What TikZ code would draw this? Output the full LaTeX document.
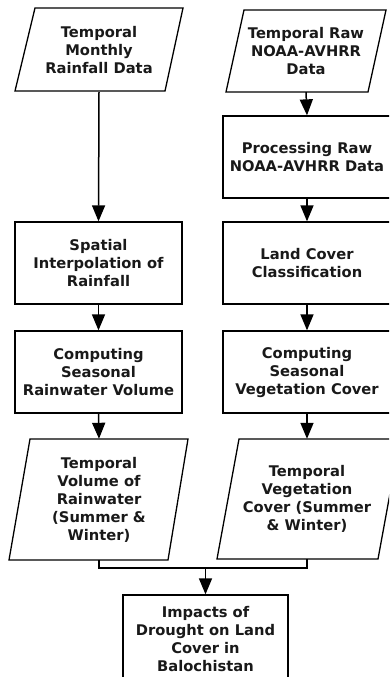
\documentclass[tikz,border=0pt]{standalone}
\usepackage{fontspec}
\setmainfont{DejaVu Sans}
\usetikzlibrary{arrows.meta}
\tikzset{
  txt/.style={font=\bfseries\fontsize{14.7}{18}\selectfont, align=center, inner sep=0pt, text=black!90},
  boxnode/.style={txt, draw=black, line width=1.3pt, minimum width=167pt},
  paranode/.style={txt, minimum width=150pt},
  outline/.style={draw=black, line width=1.3pt},
  arr/.style={draw=black, line width=1.5pt, -{Triangle[length=16pt,width=13pt]}},
  ln/.style={draw=black, line width=1.5pt}
}
\begin{document}
\begin{tikzpicture}[x=1pt,y=-1pt]
\useasboundingbox (0,0) rectangle (389,677);
\clip (0,0) rectangle (389,677);
% top parallelograms
\draw[outline] (35,8) -- (183,8) -- (165,91) -- (15,91) -- cycle;
\node[paranode, minimum height=83pt] (rain) at (99,50.5) {Temporal\\Monthly\\Rainfall Data};
\draw[outline] (244,10) -- (386,10) -- (368,92) -- (226,92) -- cycle;
\node[paranode, minimum height=82pt] (noaa) at (306,51) {Temporal Raw\\NOAA-AVHRR\\Data};
% right column boxes
\node[boxnode, minimum width=168pt, minimum height=82pt] (proc) at (307,157) {Processing Raw\\NOAA-AVHRR Data};
\node[boxnode, minimum width=168pt, minimum height=82pt] (land) at (307,263) {Land Cover\\Classification};
\node[boxnode, minimum width=168pt, minimum height=82pt] (cveg) at (307,372) {Computing\\Seasonal\\Vegetation Cover};
% left column boxes
\node[boxnode, minimum height=82pt] (spat) at (98.5,263) {Spatial\\Interpolation of\\Rainfall};
\node[boxnode, minimum height=82pt] (crain) at (98.5,372) {Computing\\Seasonal\\Rainwater Volume};
% bottom parallelograms
\draw[outline] (30,439) -- (188,439) -- (168,560) -- (9,560) -- cycle;
\node[paranode, minimum height=121pt] (vrain) at (99,499.5) {Temporal\\Volume of\\Rainwater\\(Summer \&\\Winter)};
\draw[outline] (239,439) -- (400,439) -- (378,559) -- (217,559) -- cycle;
\node[paranode, minimum height=120pt] (vveg) at (307,499) {Temporal\\Vegetation\\Cover (Summer\\\& Winter)};
% final box
\node[boxnode, minimum width=165pt, minimum height=88pt] (impact) at (205.5,639) {Impacts of\\Drought on Land\\Cover in\\Balochistan};
% connectors
\draw[arr] (rain.south) -- (spat.north);
\draw[arr] (noaa.south) -- (proc.north);
\draw[arr] (proc.south) -- (land.north);
\draw[arr] (land.south) -- (cveg.north);
\draw[arr] (spat.south) -- (crain.north);
\draw[arr] (crain.south) -- (vrain.north);
\draw[arr] (cveg.south) -- (vveg.north);
\coordinate (merge) at (impact.north |- 0,568);
\draw[ln] (vrain.south) |- (merge) -| (vveg.south);
\draw[arr] (merge) -- (impact.north);
\end{tikzpicture}
\end{document}
